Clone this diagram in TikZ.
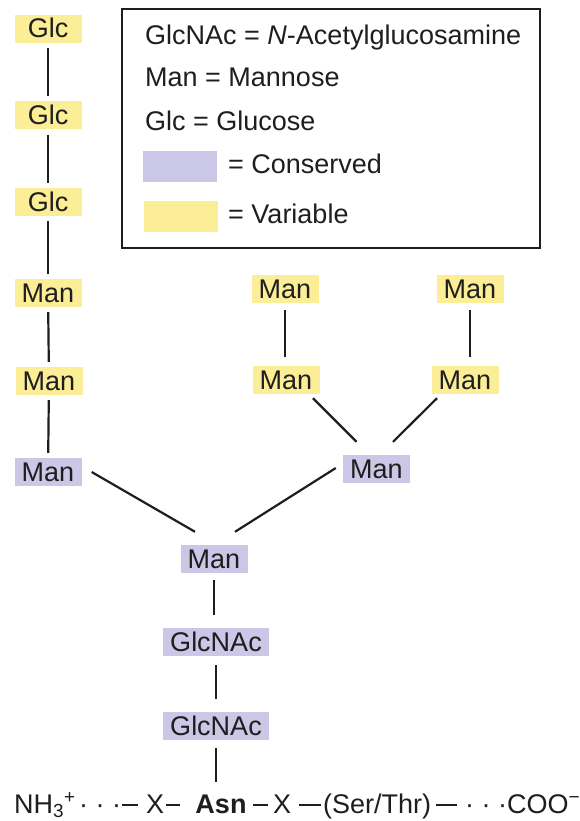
\documentclass[tikz,border=0pt]{standalone}
\usepackage{fontspec}
\setmainfont{Liberation Sans}
\usetikzlibrary{calc}
\definecolor{varcol}{RGB}{252,238,150}
\definecolor{conscol}{RGB}{203,199,230}
\definecolor{inkcol}{RGB}{30,30,30}
\newcommand{\lblfont}{\fontsize{27}{32}\selectfont}
\newcommand{\bdash}[1]{\rule[7.5pt]{#1}{2pt}}

\begin{document}
\begin{tikzpicture}[x=1pt,y=-1pt, color=inkcol,
  sugar/.style={inner xsep=7pt, inner ysep=0pt, minimum width=67pt,
    minimum height=28pt, text height=18pt, text depth=0pt, font=\lblfont},
  var/.style={sugar, fill=varcol},
  cons/.style={sugar, fill=conscol},
  bond/.style={line width=2.2pt, shorten <=5pt, shorten >=5pt},
  txt/.style={font=\lblfont, inner sep=0pt, anchor=base west},
  swatch/.style={minimum width=74pt, minimum height=31pt, inner sep=0pt}
]
\useasboundingbox (0,0) rectangle (579,821);

% ---- legend ----
\node[draw, line width=2pt, minimum width=418pt, minimum height=239pt,
  inner sep=0pt] (legend) at (331,128.5) {};
\node[txt] (lg1) at (145,45) {GlcNAc = \textit{N}-Acetylglucosamine};
\node[txt] (lg2) at (145,87) {Man = Mannose};
\node[txt] (lg3) at (145,131) {Glc = Glucose};
\node[swatch, fill=conscol] (swc) at (180,166.5) {};
\node[txt] (lg4) at (228,174) {= Conserved};
\node[swatch, fill=varcol] (swv) at (181,216.5) {};
\node[txt] (lg5) at (228,223) {= Variable};

% ---- left arm ----
\node[var] (g1) at (48,29) {Glc};
\node[var] (g2) at (48,115.5) {Glc};
\node[var] (g3) at (48,202) {Glc};
\node[var] (m1) at (48,293) {Man};
\node[var] (m2) at (49,381) {Man};
\node[cons] (m3) at (48,472) {Man};

% ---- right arms ----
\node[var] (r1) at (285,289) {Man};
\node[var] (r2) at (470,289) {Man};
\node[var] (r3) at (286,380) {Man};
\node[var] (r4) at (465,380) {Man};
\node[cons] (m4) at (376.5,469) {Man};

% ---- core ----
\node[cons] (m5) at (214,559) {Man};
\node[cons] (n1) at (216,642) {GlcNAc};
\node[cons] (n2) at (216,726) {GlcNAc};

% ---- peptide chain ----
\node[txt] (nh) at (14,813) {NH\textsubscript{3}\textsuperscript{+}};
\node[txt] (d1) at (79,813) {· · ·};
\node[txt] (b1) at (122,813) {\bdash{16pt}};
\node[txt] (x1) at (146,813) {X};
\node[txt] (b2) at (166,813) {\bdash{14pt}};
\node[font=\lblfont\bfseries, inner sep=0pt, anchor=base, text height=18pt] (asn) at (221,813) {Asn};
\node[txt] (b3) at (253,813) {\bdash{15pt}};
\node[txt] (x2) at (273,813) {X};
\node[txt] (b4) at (299,813) {\bdash{22pt}};
\node[txt] (st) at (323,813) {(Ser/Thr)};
\node[txt] (b5) at (436,813) {\bdash{21pt}};
\node[txt] (d2) at (465,813) {· · ·};
\node[txt] (coo) at (507,813) {COO\textsuperscript{−}};

% ---- bonds ----
\draw[bond] (g1) -- (g2);
\draw[bond] (g2) -- (g3);
\draw[bond] (g3) -- (m1);
\draw[bond] (m1) -- (m2);
\draw[bond] (m2) -- (m3);
\draw[bond, shorten <=7pt, shorten >=9pt] (r1.south) -- (r1.south |- r3.north);
\draw[bond, shorten <=7pt, shorten >=9pt] (r2.south) -- (r2.south |- r4.north);
\draw[bond, shorten <=0pt, shorten >=0pt]
  ([shift={(27,4)}]r3.south) -- ([shift={(-20,-13)}]m4.north);
\draw[bond, shorten <=0pt, shorten >=0pt]
  ([shift={(-28,4)}]r4.south) -- ([shift={(16.5,-13)}]m4.north);
\draw[bond, shorten <=0pt, shorten >=0pt]
  ([shift={(10,0)}]m3.east) -- ([shift={(-19,-13)}]m5.north);
\draw[bond, shorten <=0pt, shorten >=0pt]
  ([shift={(-7,-1)}]m4.west) -- ([shift={(21,-13)}]m5.north);
\draw[bond, shorten <=7pt, shorten >=13pt] (m5.south) -- (m5.south |- n1.north);
\draw[bond, shorten <=9pt, shorten >=13pt] (n1.south) -- (n1.south |- n2.north);
\draw[bond, shorten <=8pt, shorten >=13pt] (n2.south) -- (n2.south |- asn.north);
\end{tikzpicture}
\end{document}
